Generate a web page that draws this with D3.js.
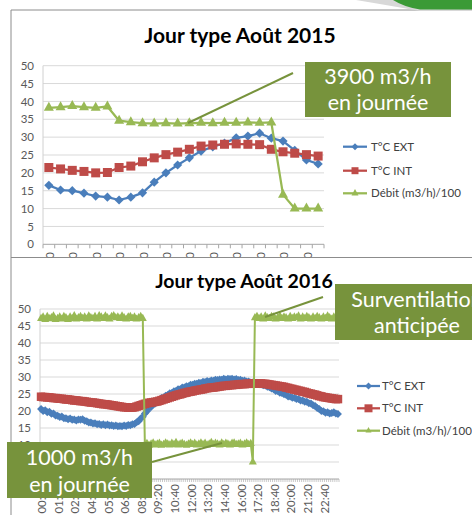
<!DOCTYPE html>
<html><head><meta charset="utf-8">
<script src="https://cdn.jsdelivr.net/npm/d3@7"></script>
<style>body{margin:0;background:#fff}svg{display:block;font-family:Lato,"Open Sans",sans-serif}</style>
</head><body><svg id="c" width="472" height="515"></svg>
<script>
// ---------- DATA: Jour type Août 2015 (hourly) ----------
const cats2015 = ["00:00","01:00","02:00","03:00","04:00","05:00","06:00","07:00","08:00","09:00","10:00","11:00",
                  "12:00","13:00","14:00","15:00","16:00","17:00","18:00","19:00","20:00","21:00","22:00","23:00"];
const ext2015 = [16.5,15.2,15.0,14.3,13.5,13.2,12.4,13.2,14.4,17.4,20.0,22.2,24.2,26.1,27.3,28.3,29.8,30.3,31.1,29.7,28.9,26.3,23.6,22.5];
const int2015 = [21.5,21.1,20.7,20.4,20.0,20.1,21.5,21.9,23.1,24.2,25.1,25.8,26.6,27.5,27.8,28.0,28.1,28.0,27.9,26.6,25.9,25.5,25.1,24.7];
const debit2015 = [38.2,38.4,38.7,38.4,38.2,38.6,34.6,34.2,33.9,33.8,33.9,33.8,33.9,34.0,33.9,34.0,34.0,34.1,34.0,34.1,13.9,10.0,10.0,10.0];
const tickLabels2015 = ["00:00","02:00","04:00","06:00","08:00","10:00","12:00","14:00","16:00","18:00","20:00","22:00"];

// ---------- DATA: Jour type Août 2016 (10-minute steps) ----------
const cats2016 = d3.range(144).map(k => String(Math.floor(k/6)).padStart(2,"0") + ":" + String((k%6)*10).padStart(2,"0"));
const ext2016 = [
 20.6,20.0,20.2,19.6,19.8,19.2,19.3,18.7, 18.6,18.2,18.4,17.9,17.9,17.6,17.8,17.4,
 17.5,17.2,17.5,17.4,17.6,17.1,17.0,16.6, 16.6,16.3,16.4,16.1,16.2,15.9,16.1,15.8,
 16.0,15.7,15.8,15.6,15.7,15.5,15.6,15.5, 15.7,15.6,15.9,15.8,16.1,16.2,16.7,17.0,
 17.8,18.3,19.3,19.9,20.8,21.2,21.9,22.2, 22.9,23.1,23.8,24.0,24.5,24.7,25.2,25.3,
 25.8,25.9,26.4,26.4,26.9,26.9,27.3,27.3, 27.7,27.7,28.0,28.0,28.3,28.2,28.6,28.5,
 28.8,28.7,29.0,28.9,29.2,29.1,29.3,29.2, 29.5,29.3,29.5,29.4,29.5,29.3,29.4,29.1,
 29.2,28.9,29.0,28.7,28.7,28.4,28.4,28.1, 28.3,28.0,27.9,27.6,27.5,27.1,27.0,26.6,
 26.4,25.9,25.9,25.4,25.3,24.9,24.8,24.3, 24.3,23.9,23.9,23.5,23.5,23.1,23.1,22.7,
 22.7,22.3,22.2,21.7,21.5,20.9,20.6,20.0, 19.9,19.5,19.6,19.3,19.4,19.6,19.3,19.1];
const int2016 = [
 24.2,24.1,24.1,24.0,24.0,23.9,23.8,23.8, 23.7,23.6,23.6,23.5,23.4,23.4,23.3,23.2,
 23.1,23.1,23.0,22.9,22.9,22.8,22.7,22.6, 22.5,22.5,22.4,22.3,22.2,22.1,22.0,22.0,
 21.9,21.8,21.7,21.6,21.5,21.4,21.3,21.2, 21.1,21.1,21.0,21.0,21.0,21.1,21.3,21.5,
 21.7,21.9,22.1,22.3,22.4,22.5,22.6,22.7, 22.8,23.0,23.2,23.4,23.6,23.8,24.0,24.2,
 24.4,24.6,24.8,24.9,25.1,25.3,25.4,25.6, 25.7,25.8,26.0,26.1,26.2,26.3,26.4,26.6,
 26.7,26.8,26.9,26.9,27.0,27.1,27.2,27.3, 27.4,27.4,27.5,27.6,27.6,27.7,27.7,27.8,
 27.9,27.9,27.9,28.0,28.0,28.0,28.1,28.1, 28.1,28.1,28.1,28.0,28.0,27.9,27.8,27.7,
 27.6,27.5,27.4,27.3,27.2,27.1,26.9,26.8, 26.6,26.5,26.3,26.2,26.0,25.9,25.7,25.6,
 25.4,25.2,25.1,24.9,24.8,24.6,24.4,24.3, 24.1,24.0,23.9,23.8,23.7,23.6,23.5,23.5];
const debit2016 = [
 47.2,47.6,46.9,47.8,47.1,47.4,47.9,46.9,47.2,47.6, 47.0,47.8,47.4,46.9,47.6,47.2,48.0,47.0,47.4,47.8,
 47.2,47.6,47.0,47.9,47.4,47.2,47.8,47.0,48.0,47.6, 47.2,47.9,47.4,47.0,47.8,48.0,47.4,47.6,47.2,47.9,
 47.4,47.0,47.6,47.8,47.2,47.6,47.0,47.4,47.8,47.2,
 10.1,10.4,9.9,10.3,10.6,10.0,10.3,10.5,9.9,10.1, 10.6,10.3,10.0,10.5,10.1,10.7,10.0,10.3,10.5,10.1,
 9.9,10.3,10.6,10.1,10.5,10.0,10.3,10.6,10.1,10.5, 10.0,10.3,10.7,10.1,10.5,10.3,10.0,10.6,10.1,10.5,
 10.3,10.0,10.5,10.6,10.1,10.3,10.5,10.0,10.3,10.6, 10.1,10.4,
 5.0,
 47.4,47.8,47.2,47.6,47.0,47.9,47.4,47.2,47.8,47.6, 47.0,47.4,47.9,47.2,47.6,47.4,47.0,47.8,47.2,47.6,
 47.4,47.9,47.0,47.6,47.2,47.8,47.4,47.0,47.6,47.2, 47.8,47.4,47.0,47.6,47.2,47.9,47.4,47.0,47.6,47.2,
 47.4];
const tickLabels2016 = ["00:00","01:20","02:40","04:00","05:20","06:40","08:00","09:20","10:40","12:00",
                        "13:20","14:40","16:00","17:20","18:40","20:00","21:20","22:40"];
const yTicks = [0,5,10,15,20,25,30,35,40,45,50];
const seriesNames = ["T°C EXT","T°C INT","Débit (m3/h)/100"];
const colors = ["#4A7EBB","#BE4B48","#98B954"];

// ---------- helpers ----------
const svg = d3.select("#c");
const diamond = r => `M0,${-r}L${r},0L0,${r}L${-r},0Z`;
const square = s => { const h = s/2; return `M${-h},${-h}h${s}v${s}h${-s}Z`; };
const triangle = w => { const h = w*0.9; return `M0,${-h*2/3}L${w/2},${h/3}L${-w/2},${h/3}Z`; };

function drawChart(o){
  const g = svg.append("g");
  const x = d3.scaleBand().domain(o.cats).range([o.x0, o.x1]);
  const y = d3.scaleLinear().domain([0,50]).range([o.y0, o.y1]);
  const cx = c => x(c) + x.bandwidth()/2;
  g.selectAll(".grid").data(yTicks.slice(1)).join("line")
    .attr("x1", o.x0).attr("x2", o.x1).attr("y1", d => y(d)).attr("y2", d => y(d))
    .attr("stroke", "#d9d9d9").attr("stroke-width", 1);
  g.selectAll(".yl").data(yTicks).join("text")
    .attr("x", o.x0 - 9).attr("y", d => y(d)).attr("dy", "0.36em")
    .attr("text-anchor", "end").attr("font-size", 11.5).attr("fill", "#595959").text(d => d);
  g.append("line").attr("x1", o.x0).attr("x2", o.x0).attr("y1", y(0)).attr("y2", y(50))
    .attr("stroke", "#d0d0d0");
  g.append("line").attr("x1", o.x0).attr("x2", o.x1).attr("y1", y(0)).attr("y2", y(0)).attr("stroke", "#a6a6a6");
  const bounds = o.cats.map(c => x(c)).concat([o.x1]);
  g.selectAll(".xt").data(bounds).join("line")
    .attr("x1", d => d).attr("x2", d => d).attr("y1", y(0)).attr("y2", y(0) + o.tickLen)
    .attr("stroke", "#a6a6a6").attr("stroke-width", o.tickW);
  const clipId = "clip" + o.id;
  svg.append("clipPath").attr("id", clipId).append("rect")
    .attr("x", o.clip[0]).attr("y", o.clip[1]).attr("width", o.clip[2]).attr("height", o.clip[3]);
  g.append("g").attr("clip-path", `url(#${clipId})`).selectAll("text").data(o.tickLabels).join("text")
    .attr("transform", d => `translate(${cx(d) + 1},${o.labelY}) rotate(-90)`)
    .attr("dy", "0.36em").attr("text-anchor", "end").attr("font-size", 11.5).attr("fill", "#595959").text(d => d);
  const series = [o.ext, o.int, o.deb];
  const shapes = [diamond(o.dR), square(o.sq), triangle(o.tri)];
  series.forEach((vals, si) => {
    const pts = vals.map((v, i) => [cx(o.cats[i]), y(v)]);
    g.append("path").attr("d", d3.line()(pts)).attr("fill", "none")
      .attr("stroke", colors[si]).attr("stroke-width", o.lw).attr("stroke-linejoin", "round");
    g.append("g").selectAll("path").data(pts).join("path")
      .attr("transform", d => `translate(${d[0]},${d[1]})`).attr("d", shapes[si]).attr("fill", colors[si]);
  });
  svg.append("text").attr("x", o.titleX).attr("y", o.titleY).attr("text-anchor", "middle")
    .attr("font-weight", "bold").attr("font-size", o.titleSize).attr("fill", "#000").text(o.title);
  const lg = svg.append("g");
  seriesNames.forEach((n, i) => {
    const ly = o.legY[i];
    lg.append("line").attr("x1", o.legX0).attr("x2", o.legX1).attr("y1", ly).attr("y2", ly)
      .attr("stroke", colors[i]).attr("stroke-width", 2.25);
    lg.append("path").attr("transform", `translate(${(o.legX0 + o.legX1)/2},${ly})`)
      .attr("d", [diamond(o.legM[0]), square(o.legM[1]), triangle(o.legM[2])][i]).attr("fill", colors[i]);
    lg.append("text").attr("x", o.legTX).attr("y", ly).attr("dy", "0.36em")
      .attr("font-size", 11.5).attr("fill", "#404040").text(n);
  });
}

svg.append("path").attr("d", "M11,515V10H472 M11,257.5H472").attr("fill", "none").attr("stroke", "#8c8c8c").attr("stroke-width", 1);
svg.append("path").attr("d", "M356,0 Q392,6 420,11 L472,11 L472,10 L430,9 Q410,8 394,0Z").attr("fill", "#d8d8d8");
svg.append("path").attr("d", "M393,0 Q404,7 420,9.5 L472,9.5 L472,0Z").attr("fill", "#3b9a36");

drawChart({id: 1, cats: cats2015, ext: ext2015, int: int2015, deb: debit2015, tickLabels: tickLabels2015,
  x0: 43, x1: 324, y0: 244.3, y1: 65.7, tickLen: 4, tickW: 1, lw: 2.25,
  dR: 4.6, sq: 9, tri: 10, labelY: 252, clip: [11, 10, 461, 247.3],
  title: "Jour type Août 2015", titleX: 240, titleY: 43, titleSize: 21,
  legX0: 343, legX1: 367, legTX: 371, legY: [146.7, 170.7, 193.3], legM: [3.5, 7, 7]});

drawChart({id: 2, cats: cats2016, ext: ext2016, int: int2016, deb: debit2016, tickLabels: tickLabels2016,
  x0: 40, x1: 339, y0: 479, y1: 309, tickLen: 3, tickW: 0.6, lw: 2,
  dR: 4, sq: 8.5, tri: 8, labelY: 484, clip: [11, 258, 461, 257],
  title: "Jour type Août 2016", titleX: 244, titleY: 288, titleSize: 19.5,
  legX0: 357, legX1: 380, legTX: 382, legY: [386, 408.3, 430.7], legM: [3.5, 8, 6]});

const notes = [
  {lines: ["3900 m3/h", "en journée"], box: [305, 62, 146, 55], base: [83.5, 110], from: [293, 73], to: [188, 123]},
  {lines: ["Surventilation", "anticipée"], box: [335, 284, 164, 56], base: [306.5, 332.5], from: [323, 297], to: [265, 317]},
  {lines: ["1000 m3/h", "en journée"], box: [7, 442, 145, 56], base: [465, 491.5], from: [152, 462], to: [222, 443]}
];
notes.forEach(n => {
  svg.append("line").attr("x1", n.from[0]).attr("y1", n.from[1]).attr("x2", n.to[0]).attr("y2", n.to[1])
    .attr("stroke", "#77933C").attr("stroke-width", 2);
  svg.append("rect").attr("x", n.box[0]).attr("y", n.box[1]).attr("width", n.box[2]).attr("height", n.box[3])
    .attr("fill", "#77933C");
  n.lines.forEach((t, i) => svg.append("text").attr("x", n.box[0] + n.box[2]/2).attr("y", n.base[i])
    .attr("text-anchor", "middle").attr("font-size", 21.5).attr("fill", "#fff").text(t));
});
</script></body></html>
